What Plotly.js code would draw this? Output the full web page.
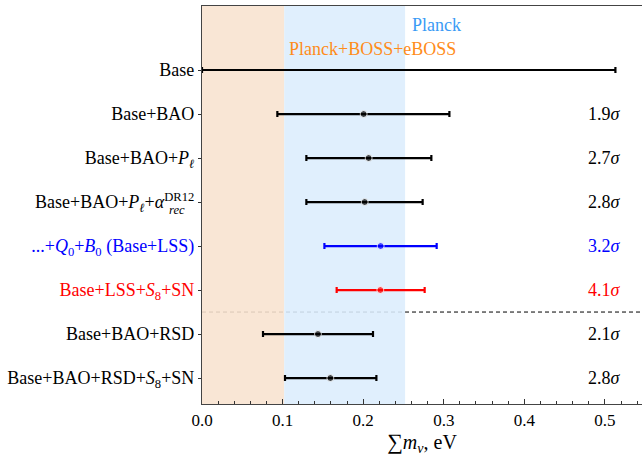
<!DOCTYPE html>
<html>
<head>
<meta charset="utf-8">
<script src="https://cdn.plot.ly/plotly-3.0.1.min.js"></script>
<style>html,body{margin:0;padding:0;background:#fff;}#chart{width:642px;height:456px;}</style>
</head>
<body>
<div id="chart"></div>
<script>
// Rows from top to bottom
const rowLabels = [
  'Base',
  'Base+BAO',
  'Base+BAO+<i>P</i><sub><i>ℓ</i></sub>',
  'Base+BAO+<i>P</i><sub><i>ℓ</i></sub>+<i>α</i><sup>DR12</sup>',
  '<span style="color:#0000ff">...+<i>Q</i><sub>0</sub>+<i>B</i><sub>0</sub> (Base+LSS)</span>',
  '<span style="color:#ff0000">Base+LSS+<i>S</i><sub>8</sub>+SN</span>',
  'Base+BAO+RSD',
  'Base+BAO+RSD+<i>S</i><sub>8</sub>+SN'
];
// subscript stacked under the DR12 superscript of row 3
const stackedSubRow = 3;
const stackedSubText = '<i>rec</i>';

const rowCenter = [null, 0.2006, 0.2068, 0.2019, 0.2217, 0.2213, 0.1439, 0.1593];
const rowLower  = [0.0, 0.0935, 0.1295, 0.1295, 0.1519, 0.1671, 0.0757, 0.1030];
const rowUpper  = [0.513, 0.307, 0.2846, 0.2738, 0.2912, 0.2763, 0.2122, 0.2164];
const rowColor  = ['#000000', '#000000', '#000000', '#000000', '#0000ff', '#ff0000', '#000000', '#000000'];
const sigmaText = [null, '1.9', '2.7', '2.8', '3.2', '4.1', '2.1', '2.8'];
const sigmaX = 0.5;

// Bands (upper limits on the neutrino mass sum)
const bandPlanckBossEboss = 0.102;
const bandPlanck = 0.252;
const bandLabels = [
  {text: 'Planck', x: 0.291, y: -1.03, color: '#3a9bf5'},
  {text: 'Planck+BOSS+eBOSS', x: 0.211, y: -0.47, color: '#ff8c1a'}
];
const separatorY = 5.5;

const FONT = '"Liberation Serif", "DejaVu Serif", serif';
const rows = rowLabels.map((_, i) => i);

const traces = [];
const colorsUsed = [...new Set(rowColor)];
colorsUsed.forEach(c => {
  const idx = rows.filter(i => rowColor[i] === c);
  traces.push({
    type: 'scatter', mode: 'markers',
    x: idx.map(i => rowCenter[i] === null ? rowUpper[i] : rowCenter[i]),
    y: idx,
    marker: {color: c, size: idx.map(i => rowCenter[i] === null ? 0 : 7)},
    error_x: {
      type: 'data', symmetric: false,
      array: idx.map(i => rowCenter[i] === null ? 0 : rowUpper[i] - rowCenter[i]),
      arrayminus: idx.map(i => rowCenter[i] === null ? rowUpper[i] - rowLower[i] : rowCenter[i] - rowLower[i]),
      color: c, thickness: 2.2, width: 3
    },
    hoverinfo: 'skip', showlegend: false, cliponaxis: false
  });
});

const annotations = [];
rows.forEach(i => {
  if (sigmaText[i] === null) return;
  annotations.push({
    x: sigmaX, y: i, xref: 'x', yref: 'y', showarrow: false,
    text: sigmaText[i] + '<i>σ</i>', xanchor: 'center', yanchor: 'middle',
    font: {family: FONT, size: 18, color: rowColor[i]}
  });
});
bandLabels.forEach(b => annotations.push({
  x: b.x, y: b.y, xref: 'x', yref: 'y', showarrow: false, text: b.text,
  xanchor: 'center', yanchor: 'middle', font: {family: FONT, size: 18, color: b.color}
}));
annotations.push({
  x: -0.079, y: stackedSubRow + 0.19, xref: 'paper', yref: 'y', showarrow: false,
  text: stackedSubText, xanchor: 'left', yanchor: 'middle',
  font: {family: FONT, size: 12.6, color: rowColor[stackedSubRow]}
});

const shapes = [
  {type: 'line', xref: 'paper', x0: 0, x1: 1, yref: 'y', y0: separatorY, y1: separatorY,
   line: {color: '#000', width: 1, dash: '4px,3px'}, layer: 'below'},
  {type: 'rect', xref: 'x', yref: 'paper', x0: 0, x1: bandPlanckBossEboss, y0: 0, y1: 1,
   fillcolor: '#f8e3cf', opacity: 0.88, line: {width: 0}, layer: 'below'},
  {type: 'rect', xref: 'x', yref: 'paper', x0: bandPlanckBossEboss, x1: bandPlanck, y0: 0, y1: 1,
   fillcolor: '#dcedfd', opacity: 0.88, line: {width: 0}, layer: 'below'}
];

const layout = {
  width: 642, height: 456,
  margin: {l: 202, r: 0, t: 6, b: 52},
  paper_bgcolor: '#fff', plot_bgcolor: '#fff',
  font: {family: FONT, size: 18, color: '#000'},
  xaxis: {
    range: [0, 0.546], tickvals: [0, 0.1, 0.2, 0.3, 0.4, 0.5],
    ticktext: ['0.0', '0.1', '0.2', '0.3', '0.4', '0.5'],
    ticks: 'inside', ticklen: 5, tickwidth: 1, tickcolor: '#333',
    minor: {dtick: 0.02, tick0: 0, ticks: 'inside', ticklen: 3, tickcolor: '#333', showgrid: false},
    showgrid: false, zeroline: false, showline: true, linecolor: '#444', linewidth: 1.2, mirror: true,
    tickfont: {family: FONT, size: 17}, fixedrange: true,
    title: {text: '<span style="font-size:22px">∑</span><i>m</i><sub><i>ν</i></sub>, eV', font: {family: FONT, size: 20}, standoff: 14}
  },
  yaxis: {
    range: [7.59, -1.455], tickvals: rows, ticktext: rowLabels,
    ticks: 'outside', ticklen: 3, tickcolor: '#333', tickwidth: 1,
    showgrid: false, zeroline: false, showline: true, linecolor: '#444', linewidth: 1.2,
    tickfont: {family: FONT, size: 18}, fixedrange: true
  },
  shapes: shapes, annotations: annotations, showlegend: false
};

Plotly.newPlot('chart', traces, layout, {displayModeBar: false});
</script>
</body>
</html>
